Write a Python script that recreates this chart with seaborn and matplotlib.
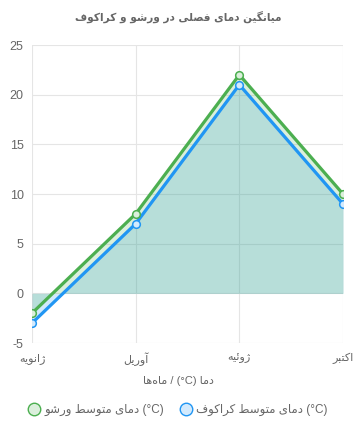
import matplotlib
matplotlib.use("Agg")
import matplotlib.pyplot as plt
from matplotlib.lines import Line2D
import seaborn as sns
import pandas as pd

# ---------------- data ----------------
months = ["ژانویه", "آوریل", "ژوئیه", "اکتبر"]
warsaw = [-2, 8, 22, 10]
krakow = [-3, 7, 21, 9]
series_labels = ["دمای متوسط ورشو (°C)", "دمای متوسط کراکوف (°C)"]
title_text = "میانگین دمای فصلی در ورشو و کراکوف"
xlabel_text = "ماه‌ها / (°C) دما"
yticks = [-5, 0, 5, 10, 15, 20, 25]

# ---------------- minimal Persian shaping + bidi ----------------
FORMS = {
    'ا': ('\uFE8D', '\uFE8E'), 'آ': ('\uFE81', '\uFE82'),
    'د': ('\uFEA9', '\uFEAA'), 'ذ': ('\uFEAB', '\uFEAC'),
    'ر': ('\uFEAD', '\uFEAE'), 'ز': ('\uFEAF', '\uFEB0'),
    'ژ': ('\uFB8A', '\uFB8B'), 'و': ('\uFEED', '\uFEEE'),
    'ب': ('\uFE8F', '\uFE90', '\uFE91', '\uFE92'),
    'ت': ('\uFE95', '\uFE96', '\uFE97', '\uFE98'),
    'س': ('\uFEB1', '\uFEB2', '\uFEB3', '\uFEB4'),
    'ش': ('\uFEB5', '\uFEB6', '\uFEB7', '\uFEB8'),
    'ص': ('\uFEB9', '\uFEBA', '\uFEBB', '\uFEBC'),
    'ط': ('\uFEC1', '\uFEC2', '\uFEC3', '\uFEC4'),
    'ف': ('\uFED1', '\uFED2', '\uFED3', '\uFED4'),
    'ق': ('\uFED5', '\uFED6', '\uFED7', '\uFED8'),
    'ک': ('\uFB8E', '\uFB8F', '\uFB90', '\uFB91'),
    'گ': ('\uFB92', '\uFB93', '\uFB94', '\uFB95'),
    'ل': ('\uFEDD', '\uFEDE', '\uFEDF', '\uFEE0'),
    'م': ('\uFEE1', '\uFEE2', '\uFEE3', '\uFEE4'),
    'ن': ('\uFEE5', '\uFEE6', '\uFEE7', '\uFEE8'),
    'ه': ('\uFEE9', '\uFEEA', '\uFEEB', '\uFEEC'),
    'ی': ('\uFBFC', '\uFBFD', '\uFBFE', '\uFBFF'),
    'ئ': ('\uFE89', '\uFE8A', '\uFE8B', '\uFE8C'),
}


def _dual(c):
    return c in FORMS and len(FORMS[c]) == 4


def shape(text):
    out = []
    n = len(text)
    for i, c in enumerate(text):
        if c == '\u200c':
            continue
        if c not in FORMS:
            out.append(c)
            continue
        prev = text[i - 1] if i > 0 else ''
        nxt = text[i + 1] if i + 1 < n else ''
        pj = _dual(prev)
        nj = _dual(c) and nxt in FORMS
        f = FORMS[c]
        if pj and nj:
            out.append(f[3])
        elif pj:
            out.append(f[1])
        elif nj:
            out.append(f[2])
        else:
            out.append(f[0])
    return ''.join(out)


def _cls(ch):
    o = ord(ch)
    if 0x0600 <= o <= 0x06FF or 0xFB50 <= o <= 0xFDFF or 0xFE70 <= o <= 0xFEFF:
        return 'R'
    if ch.isalnum():
        return 'L'
    return 'N'


def visual(text):
    s = shape(text)
    cls = [_cls(c) for c in s]
    n = len(s)
    i = 0
    while i < n:
        if cls[i] == 'N':
            j = i
            while j < n and cls[j] == 'N':
                j += 1
            left = cls[i - 1] if i > 0 else 'L'
            right = cls[j] if j < n else 'L'
            fill = 'R' if (left == 'R' and right == 'R') else 'L'
            for k in range(i, j):
                cls[k] = fill
            i = j
        else:
            i += 1
    out, i = [], 0
    while i < n:
        j = i
        while j < n and cls[j] == cls[i]:
            j += 1
        seg = s[i:j]
        out.append(seg[::-1] if cls[i] == 'R' else seg)
        i = j
    return ''.join(out)


# ---------------- style ----------------
sns.set_style("white")
plt.rcParams['font.family'] = ['Liberation Sans', 'DejaVu Sans']

GREEN = '#4CAF50'
BLUE = '#2196F3'
GREEN_L = '#dbefdc'
BLUE_L = '#d3eafd'
GRID = '#e5e5e5'
TXT = '#666666'

fig = plt.figure(figsize=(3.56, 4.33), dpi=100)
ax = fig.add_axes([32 / 356, 1 - 343 / 433, (343 - 32) / 356, 298 / 433])

pos = list(range(len(months)))
df = pd.DataFrame({'pos': pos * 2,
                   'temp': warsaw + krakow,
                   'city': [series_labels[0]] * 4 + [series_labels[1]] * 4})

# fills to origin
ax.fill_between(pos, krakow, 0, color=BLUE, alpha=0.2, linewidth=0, zorder=1)
ax.fill_between(pos, warsaw, 0, color=GREEN, alpha=0.2, linewidth=0, zorder=1)

sns.lineplot(data=df[df.city == series_labels[1]], x='pos', y='temp', ax=ax,
             color=BLUE, linewidth=2.3, marker='o', markersize=5.5,
             markerfacecolor=BLUE_L, markeredgecolor=BLUE, markeredgewidth=1.1,
             legend=False, zorder=3)
sns.lineplot(data=df[df.city == series_labels[0]], x='pos', y='temp', ax=ax,
             color=GREEN, linewidth=2.3, marker='o', markersize=5.5,
             markerfacecolor=GREEN_L, markeredgecolor=GREEN, markeredgewidth=1.1,
             legend=False, zorder=4)

ax.set_xlim(0, len(months) - 1)
ax.set_ylim(-5, 25)
ax.set_yticks(yticks)
ax.set_yticklabels([str(v) for v in yticks])
ax.set_xticks(pos)
ax.set_xticklabels([visual(m) for m in months])
ax.set_xlabel('')
ax.set_ylabel('')

ax.grid(True, color=GRID, linewidth=0.8)
ax.set_axisbelow(True)
for sp in ax.spines.values():
    sp.set_visible(False)
ax.tick_params(axis='both', length=4, width=0.8, color=GRID, labelcolor=TXT,
               labelsize=9)
ax.tick_params(axis='y', pad=2)
ax.tick_params(axis='x', pad=3)
for t in ax.get_xticklabels():
    t.set_fontfamily(['DejaVu Sans'])
    t.set_fontsize(8)

fig.text(0.5, 1 - 17 / 433, visual(title_text), ha='center', va='center',
         fontsize=7.6, fontweight='bold', color=TXT, family=['DejaVu Sans'])
fig.text(0.5, 1 - 381 / 433, visual(xlabel_text), ha='center', va='center',
         fontsize=8, color=TXT, family=['Liberation Sans', 'DejaVu Sans'])

handles = [
    Line2D([], [], linestyle='none', marker='o', markersize=9,
           markerfacecolor=GREEN_L, markeredgecolor=GREEN, markeredgewidth=1.0),
    Line2D([], [], linestyle='none', marker='o', markersize=9,
           markerfacecolor=BLUE_L, markeredgecolor=BLUE, markeredgewidth=1.0),
]
leg = fig.legend(handles, [visual(s) for s in series_labels], loc='center',
                 bbox_to_anchor=(0.5, 1 - 410 / 433), ncol=2, frameon=False,
                 handletextpad=0.4, columnspacing=1.3, handlelength=1.0,
                 prop={'size': 8.5, 'family': ['Liberation Sans', 'DejaVu Sans']})
for t in leg.get_texts():
    t.set_color(TXT)

fig.savefig('out.png', dpi=100)
